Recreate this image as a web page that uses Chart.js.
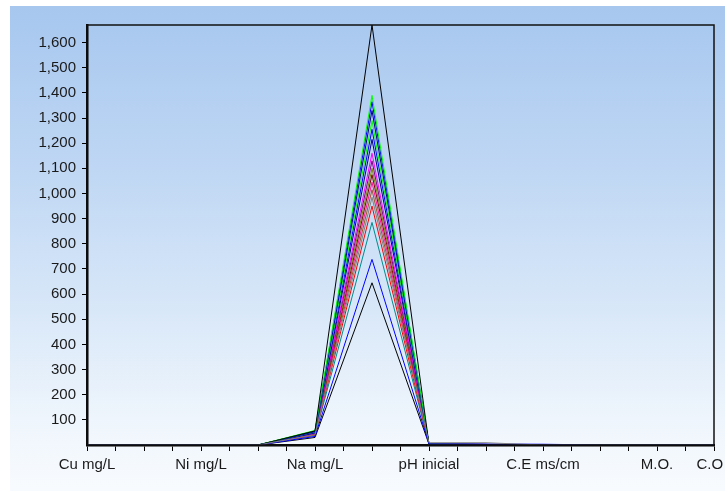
<!doctype html>
<html lang="en">
  <head>
    <meta charset="utf-8">
    <title>Perfil de parametros</title>
    <style>
      * {
        margin: 0;
        padding: 0;
      }
      body {
        width: 725px;
        height: 491px;
        overflow: hidden;
        background: #fff;
      }
      .chartBox {
        position: absolute;
        left: 10px;
        top: 6px;
        width: 725px;
        height: 485px;
        background: linear-gradient(to bottom, #a7c7ef 0%, #bcd5f3 30%, #d6e6f8 60%, #eef5fc 85%, #f8fbfe 100%);
      }
    </style>
  </head>
  <body>
    <div class="chartBox">
      <canvas id="myChart"></canvas>
    </div>
    <script src="https://cdn.jsdelivr.net/npm/chart.js"></script>
    <script>
    // categories (unlabelled ones are skipped on the axis)
    const categories = ['Cu mg/L', '', 'Ni mg/L', '', 'Na mg/L', '', 'pH inicial', '', 'C.E ms/cm', '', 'M.O.', 'C.O'];

    const yTicks = [100, 200, 300, 400, 500, 600, 700, 800, 900, 1000, 1100, 1200, 1300, 1400, 1500, 1600];

    const seriesColors = [
      '#808080', '#0000ff', '#000000', '#00ff00', '#0000ff', '#000080', '#00ff00', '#0000ff',
      '#000080', '#ff00ff', '#800080', '#808000', '#800000', '#ff1493', '#a0522d', '#ff0000',
      '#008b8b', '#000000'
    ];

    const seriesValues = [
      [0, 0, 0, 0, 41, 985, 9, 9, 0, 0, 0, 0],
      [0, 0, 0, 0, 34, 738, 4, 4, 3, 0, 0, 0],
      [0, 0, 0, 0, 56, 1670, 3, 2, 1, 0, 0, 0],
      [0, 0, 0, 0, 58, 1390, 3, 2, 1, 0, 0, 0],
      [0, 0, 0, 0, 55, 1365, 3, 2, 1, 0, 0, 0],
      [0, 0, 0, 0, 53, 1330, 3, 2, 1, 0, 0, 0],
      [0, 0, 0, 0, 52, 1290, 3, 2, 1, 0, 0, 0],
      [0, 0, 0, 0, 50, 1255, 3, 2, 1, 0, 0, 0],
      [0, 0, 0, 0, 48, 1215, 3, 2, 1, 0, 0, 0],
      [0, 0, 0, 0, 47, 1160, 3, 2, 1, 0, 0, 0],
      [0, 0, 0, 0, 46, 1130, 3, 2, 1, 0, 0, 0],
      [0, 0, 0, 0, 45, 1100, 3, 2, 1, 0, 0, 0],
      [0, 0, 0, 0, 44, 1075, 3, 2, 1, 0, 0, 0],
      [0, 0, 0, 0, 43, 1045, 3, 2, 1, 0, 0, 0],
      [0, 0, 0, 0, 42, 1015, 3, 2, 1, 0, 0, 0],
      [0, 0, 0, 0, 40, 950, 3, 2, 1, 0, 0, 0],
      [0, 0, 0, 0, 38, 885, 3, 2, 1, 0, 0, 0],
      [0, 0, 0, 0, 30, 645, 3, 2, 1, 0, 0, 0]
    ];

    const font = { family: 'Arial, "Liberation Sans", sans-serif', size: 15 };
    const last = categories.length - 1;

    // plot frame (top + right edges)
    const framePlugin = {
      id: 'frame',
      afterDraw(chart) {
        const { ctx, chartArea: a } = chart;
        ctx.save();
        ctx.strokeStyle = '#111';
        ctx.lineWidth = 1.5;
        ctx.strokeRect(a.left, a.top, a.right - a.left, a.bottom - a.top);
        ctx.restore();
      }
    };

    const data = {
      datasets: seriesValues.map((vals, i) => ({
        data: vals.map((v, j) => ({ x: j, y: v })),
        borderColor: seriesColors[i],
        borderWidth: 1,
        pointRadius: 0,
        tension: 0,
        fill: false
      }))
    };

    const config = {
      type: 'line',
      data,
      options: {
        responsive: true,
        maintainAspectRatio: false,
        animation: false,
        layout: { padding: { left: 0, top: 19, right: 21, bottom: 0 } },
        plugins: {
          legend: { display: false },
          tooltip: { enabled: false }
        },
        scales: {
          x: {
            type: 'linear',
            min: 0,
            max: last,
            z: 1,
            afterFit(scale) {
              scale.height = 46;
              scale.paddingLeft = 0;
              scale.paddingRight = 0;
            },
            grid: { drawOnChartArea: false, tickLength: 6, color: '#000', tickWidth: 1 },
            border: { display: true, color: '#000', width: 2.5 },
            ticks: {
              stepSize: 0.5,
              autoSkip: false,
              maxRotation: 0,
              padding: 5,
              color: '#1a1a1a',
              font,
              // last label nudged left so it stays inside the window
              callback: v => Number.isInteger(v) ? categories[v] + (v === last ? '\u00a0\u00a0' : '') : ''
            }
          },
          y: {
            min: 0,
            max: 1670,
            z: 1,
            afterFit(scale) { scale.width = 77; },
            afterBuildTicks(scale) {
              scale.ticks = yTicks.map(v => ({ value: v }));
            },
            grid: { drawOnChartArea: false, tickLength: 5, color: '#000', tickWidth: 1 },
            border: { display: true, color: '#000', width: 2.5 },
            ticks: {
              padding: 6,
              color: '#1a1a1a',
              font,
              callback: v => v.toLocaleString('en-US')
            }
          }
        }
      },
      plugins: [framePlugin]
    };

    const myChart = new Chart(document.getElementById('myChart'), config);
    </script>
  </body>
</html>
